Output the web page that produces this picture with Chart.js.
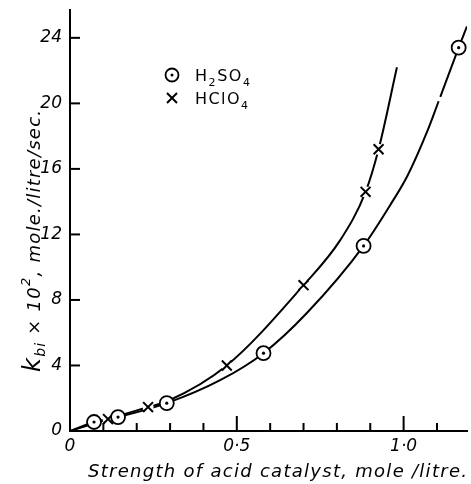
<!DOCTYPE html>
<html><head><meta charset="utf-8">
<script src="https://cdn.jsdelivr.net/npm/chart.js@4.4.0/dist/chart.umd.min.js"></script>
<style>html,body{margin:0;padding:0;background:#fff}#wrap{width:471px;height:484px}</style>
</head><body><div id="wrap"><canvas id="c" width="471" height="484"></canvas></div>
<script>
// ---- data ----
const h2so4X = [0.072, 0.144, 0.29, 0.58, 0.88, 1.165];
const h2so4Y = [0.55, 0.85, 1.7, 4.75, 11.3, 23.4];
const hclo4X = [0.114, 0.234, 0.47, 0.70, 0.886, 0.925];
const hclo4Y = [0.73, 1.46, 4.0, 8.9, 14.6, 17.2];
// null = small break in the drawn curve, as in the original
const h2so4CurveX = [0, 0.072, 0.144, 0.29, 0.45, 0.58, 0.71, 0.88, 0.96, 1.012, 1.072, 1.105, 1.1075, 1.110, 1.165, 1.19];
const h2so4CurveY = [0, 0.55, 0.85, 1.7, 3.1, 4.75, 7.2, 11.3, 13.8, 15.6, 18.35, 20.13, null, 20.4, 23.4, 24.7];
const hclo4CurveX = [0, 0.114, 0.234, 0.29, 0.47, 0.70, 0.81, 0.886, 0.925, 0.98];
const hclo4CurveY = [0, 0.73, 1.46, 1.8, 4.0, 8.9, 11.65, 14.6, 17.2, 22.2];
const xMajorTicks = [0, 0.5, 1.0];
const xTickLabels = ['0', '0·5', '1·0'];
const xMinorTicks = [0.1, 0.2, 0.3, 0.4, 0.6, 0.7, 0.8, 0.9, 1.1];
const yTicks = [0, 4, 8, 12, 16, 20, 24];
const yTickLabels = ['0', '4', '8', '12', '16', '20', '24'];
const xTitle = [['Strength of acid catalyst, mole /litre.', 'norm']];
const yTitleParts = [['k', 'main'], ['bi', 'sub'], [' × 10', 'norm'], ['2', 'sup'], [', mole./litre/sec.', 'norm']];
const legendH2SO4 = [['H', 'n'], ['2', 's'], ['SO', 'n'], ['4', 's']];
const legendHClO4 = [['HClO', 'n'], ['4', 's']];

const pts = (xs, ys) => xs.map((x, i) => ({x: x, y: ys[i]}));
const FONT = '"DejaVu Sans", sans-serif';

function chars(parts) { let n = 0; parts.forEach(p => n += p[0].length); return n; }
function rawWidth(ctx, parts, fonts) {
  let w = 0;
  parts.forEach(([t, k]) => { ctx.font = fonts[k]; for (const ch of t) w += ctx.measureText(ch).width; });
  return w;
}
// draw rich text, spaced so that it spans exactly `target` px
function drawFit(ctx, parts, fonts, offs, target) {
  const n = chars(parts);
  const sp = (target - rawWidth(ctx, parts, fonts)) / Math.max(1, n - 1);
  let x = 0;
  parts.forEach(([t, k]) => {
    ctx.font = fonts[k];
    for (const ch of t) { ctx.fillText(ch, x, offs[k]); x += ctx.measureText(ch).width + sp; }
  });
}

const decor = {
  id: 'decor',
  afterDatasetsDraw(chart) {
    const ctx = chart.ctx, a = chart.chartArea;
    const xs = chart.scales.x, ys = chart.scales.y;
    ctx.save();
    ctx.strokeStyle = '#000'; ctx.fillStyle = '#000'; ctx.lineWidth = 2;
    ctx.textBaseline = 'alphabetic'; ctx.textAlign = 'left';
    // inward ticks
    yTicks.forEach(v => { if (v === 0) return; const p = ys.getPixelForValue(v);
      ctx.beginPath(); ctx.moveTo(a.left, p); ctx.lineTo(a.left + 10, p); ctx.stroke(); });
    xMajorTicks.forEach(v => { if (v === 0) return; const p = xs.getPixelForValue(v);
      ctx.beginPath(); ctx.moveTo(p, a.bottom); ctx.lineTo(p, a.bottom - 15); ctx.stroke(); });
    xMinorTicks.forEach(v => { const p = xs.getPixelForValue(v);
      ctx.beginPath(); ctx.moveTo(p, a.bottom); ctx.lineTo(p, a.bottom - 8); ctx.stroke(); });
    // x title
    ctx.save(); ctx.translate(88, 477);
    drawFit(ctx, xTitle, {norm: 'italic 18px ' + FONT}, {norm: 0}, 379);
    ctx.restore();
    // y title (rotated)
    const yf = {main: 'italic 24px ' + FONT, sub: 'italic 14px ' + FONT, norm: 'italic 18px ' + FONT, sup: 'italic 13px ' + FONT};
    const yo = {main: 0, sub: 5, norm: 0, sup: -10};
    ctx.save();
    ctx.translate(40, 372);
    ctx.rotate(-Math.PI / 2);
    drawFit(ctx, yTitleParts, yf, yo, 262);
    ctx.restore();
    // legend
    const lf = {n: '16px ' + FONT, s: '11px ' + FONT};
    const lo = {n: 0, s: 5};
    ctx.lineWidth = 1.8;
    ctx.beginPath(); ctx.arc(172, 75, 6.5, 0, Math.PI * 2); ctx.stroke();
    ctx.beginPath(); ctx.arc(172, 75, 1.5, 0, Math.PI * 2); ctx.fill();
    ctx.save(); ctx.translate(195, 81); drawFit(ctx, legendH2SO4, lf, lo, 55); ctx.restore();
    ctx.lineWidth = 2;
    ctx.beginPath(); ctx.moveTo(167, 93); ctx.lineTo(177, 103); ctx.moveTo(177, 93); ctx.lineTo(167, 103); ctx.stroke();
    ctx.save(); ctx.translate(195, 104); drawFit(ctx, legendHClO4, lf, lo, 53); ctx.restore();
    ctx.restore();
  }
};

new Chart(document.getElementById('c'), {
  type: 'scatter',
  data: {
    datasets: [
      {label: 'H2SO4 centre', data: pts(h2so4X, h2so4Y), pointRadius: 1.6, pointBackgroundColor: '#000', pointBorderWidth: 0, order: 0},
      {label: 'H2SO4', data: pts(h2so4X, h2so4Y), pointRadius: 7, pointBackgroundColor: '#fff', pointBorderColor: '#000', pointBorderWidth: 1.8, order: 1},
      {label: 'HClO4', data: pts(hclo4X, hclo4Y), pointStyle: 'crossRot', pointRadius: 7, pointBorderColor: '#000', pointBorderWidth: 2, order: 1},
      {label: 'HClO4 halo', data: pts(hclo4X, hclo4Y), pointRadius: 5.5, pointBackgroundColor: '#fff', pointBorderWidth: 0, order: 2},
      {label: 'H2SO4 curve', data: pts(h2so4CurveX, h2so4CurveY), showLine: true, spanGaps: false, pointRadius: 0, borderColor: '#000', borderWidth: 2, cubicInterpolationMode: 'monotone', order: 3},
      {label: 'HClO4 curve', data: pts(hclo4CurveX, hclo4CurveY), showLine: true, pointRadius: 0, borderColor: '#000', borderWidth: 2, cubicInterpolationMode: 'monotone', order: 3}
    ]
  },
  options: {
    responsive: false, animation: false, devicePixelRatio: 1, events: [],
    layout: {autoPadding: false, padding: {top: 10, right: 4, left: 0, bottom: 0}},
    plugins: {legend: {display: false}, tooltip: {enabled: false}},
    scales: {
      x: {
        type: 'linear', min: 0, max: 1.19,
        afterBuildTicks: s => { s.ticks = xMajorTicks.map(v => ({value: v})); },
        afterFit: s => { s.height = 53; s.paddingLeft = 0; s.paddingRight = 0; },
        ticks: {callback: (v, i) => xTickLabels[i], font: {family: FONT, size: 17, style: 'italic'}, color: '#000', padding: 5, maxRotation: 0, autoSkip: false},
        grid: {display: false, drawTicks: false},
        border: {display: true, color: '#000', width: 2}
      },
      y: {
        type: 'linear', min: 0, max: 25.7,
        afterBuildTicks: s => { s.ticks = yTicks.map(v => ({value: v})); },
        afterFit: s => { s.width = 70; s.paddingTop = 0; s.paddingBottom = 0; },
        ticks: {callback: (v, i) => yTickLabels[i], font: {family: FONT, size: 17, style: 'italic'}, color: '#000', padding: 8, autoSkip: false},
        grid: {display: false, drawTicks: false},
        border: {display: true, color: '#000', width: 2}
      }
    }
  },
  plugins: [decor]
});
</script></body></html>
